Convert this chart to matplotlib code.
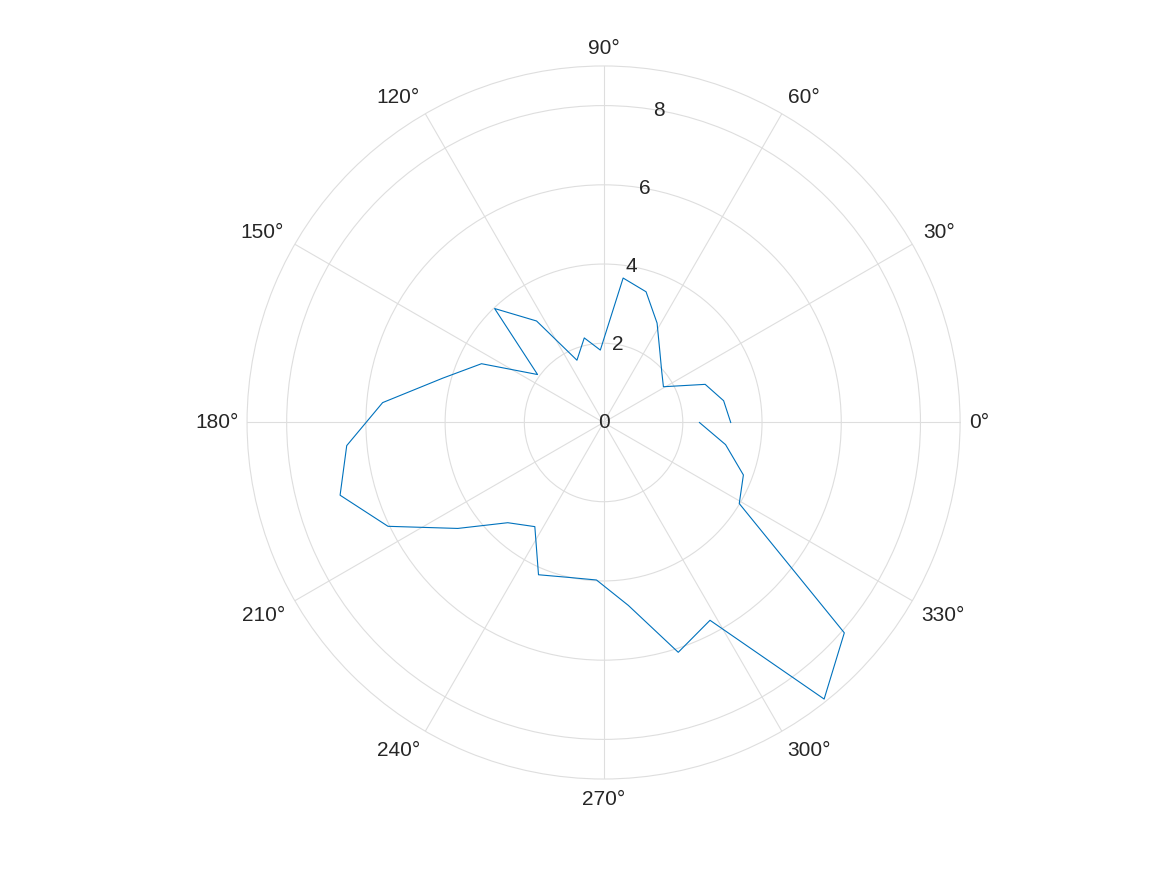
import numpy as np
import matplotlib.pyplot as plt

plt.rcParams["font.family"] = ["Liberation Sans", "DejaVu Sans"]

# 36 samples from 0 to 360 degrees
theta_deg = np.linspace(0, 360, 36)
radius = [3.21, 3.08, 2.74, 1.76, 1.95, 2.28, 2.85, 3.47, 3.68, 1.83,
          2.19, 1.71, 3.07, 3.98, 2.06, 3.42, 4.21, 5.60, 6.51, 6.90,
          6.04, 4.55, 3.50, 3.15, 4.18, 4.01, 3.98, 4.66, 6.10, 5.67,
          8.93, 8.07, 3.99, 3.77, 3.13, 2.42]

r_ticks = [0, 2, 4, 6, 8]
theta_ticks = list(range(0, 360, 30))
theta_labels = [f"{t}°" for t in theta_ticks]

grid_col = "#dedede"
text_col = "#262626"
fs = 15

fig = plt.figure(figsize=(11.67, 8.75), dpi=100)
ax = fig.add_axes([0.2117, 0.1097, 0.611, 0.8149], projection="polar")

ax.plot(np.deg2rad(theta_deg), radius, color="#0072BD", lw=0.8)

ax.set_ylim(0, 9)
ax.set_yticks(r_ticks[1:])
ax.set_yticklabels([])
ax.set_thetagrids(theta_ticks, [""] * len(theta_ticks))
ax.grid(True, color=grid_col, lw=0.8)
ax.spines["polar"].set_color(grid_col)
ax.spines["polar"].set_linewidth(0.8)

# angle labels: the corner nearest the centre sits on the spoke, like MATLAB
for t, lab in zip(theta_ticks, theta_labels):
    c, s = np.cos(np.deg2rad(t)), np.sin(np.deg2rad(t))
    ha = "left" if c > 1e-6 else ("right" if c < -1e-6 else "center")
    if s > 1e-6:
        va, rr = "baseline", 9.31
    elif s < -1e-6:
        va, rr = "top", 9.27
    else:
        va, rr = "center", 9.22
    ax.text(np.deg2rad(t), rr, lab, ha=ha, va=va,
            fontsize=fs, color=text_col, clip_on=False)

# radial labels along the 80 degree direction
for r in r_ticks:
    ax.text(np.deg2rad(80), r, str(r), ha="center", va="center",
            fontsize=fs, color=text_col)

fig.savefig("out.png", dpi=100)
